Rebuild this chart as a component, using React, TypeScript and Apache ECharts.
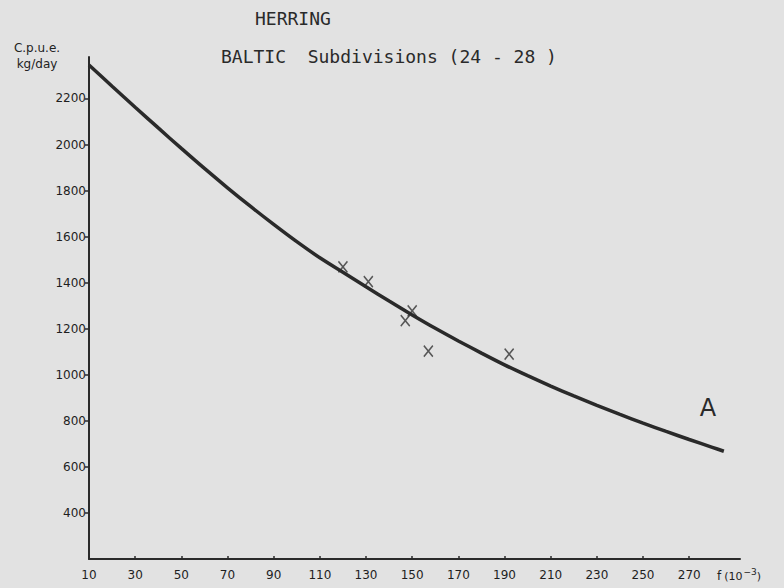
import React, { useEffect, useRef } from 'react';
import * as echarts from 'echarts';

// Fitted curve (f in 10^-3 units, C.p.u.e. kg/day)
const curveX = [10, 20, 30, 40, 50, 60, 70, 80, 90, 100, 110, 120, 130, 140, 150, 160, 170, 180, 190, 200, 210, 220, 230, 240, 250, 260, 270, 280, 285];
const curveY = [2345, 2253, 2162, 2072, 1983, 1896, 1812, 1731, 1653, 1578, 1508, 1445, 1382, 1320, 1260, 1202, 1147, 1094, 1043, 996, 951, 908, 867, 828, 790, 754, 719, 685, 668];

// Observed points (crosses)
const obsX = [120, 131, 150, 147, 157, 192];
const obsY = [1469, 1404, 1278, 1235, 1103, 1090];

const xTicks = [10, 30, 50, 70, 90, 110, 130, 150, 170, 190, 210, 230, 250, 270];
const yTicks = [400, 600, 800, 1000, 1200, 1400, 1600, 1800, 2000, 2200];

const ink = '#2a2a2a';
const labelFont = 'DejaVu Sans';
const titleFont = 'DejaVu Sans Mono';

export default function App() {
  const ref = useRef<HTMLDivElement>(null);

  useEffect(() => {
    const chart = echarts.init(ref.current!, null, { renderer: 'svg' });
    chart.setOption({
      animation: false,
      backgroundColor: '#e2e2e2',
      grid: { left: 89, right: 44, top: 57, bottom: 29 },
      xAxis: {
        type: 'value',
        min: 10,
        max: 292,
        axisLine: { show: true, lineStyle: { color: ink, width: 2 } },
        axisTick: { show: true, inside: true, length: 3, customValues: xTicks, lineStyle: { color: ink, width: 1.5 } },
        axisLabel: {
          customValues: xTicks,
          formatter: (v: number) => String(v),
          color: '#1e1e1e',
          fontFamily: labelFont,
          fontSize: 12,
          margin: 10,
        },
        splitLine: { show: false },
      },
      yAxis: {
        type: 'value',
        min: 200,
        max: 2380,
        axisLine: { show: true, lineStyle: { color: ink, width: 2 } },
        axisTick: { show: true, length: 4, customValues: yTicks, lineStyle: { color: ink, width: 1.5 } },
        axisLabel: {
          customValues: yTicks,
          formatter: (v: number) => String(v),
          color: '#1e1e1e',
          fontFamily: labelFont,
          fontSize: 12,
          margin: 3,
        },
        splitLine: { show: false },
      },
      series: [
        {
          type: 'line',
          data: curveX.map((x, i) => [x, curveY[i]]),
          smooth: 0.3,
          showSymbol: false,
          lineStyle: { color: ink, width: 3.5 },
        },
        {
          type: 'scatter',
          data: obsX.map((x, i) => [x, obsY[i]]),
          symbol: 'path://M0,0L10,12M10,0L0,12',
          symbolSize: [9, 11],
          itemStyle: { color: 'transparent', borderColor: '#333', borderWidth: 1.6 },
        },
      ],
      graphic: [
        {
          type: 'text',
          left: 255,
          top: 9,
          style: { text: 'HERRING', font: `18px "${titleFont}"`, fill: '#2a2a2a' },
        },
        {
          type: 'text',
          left: 221,
          top: 47,
          style: { text: 'BALTIC  Subdivisions (24 - 28 )', font: `18px "${titleFont}"`, fill: '#2a2a2a' },
        },
        {
          type: 'text',
          x: 37,
          y: 48,
          style: { text: 'C.p.u.e.', font: `12px "${labelFont}"`, fill: '#222', align: 'center', verticalAlign: 'middle' },
        },
        {
          type: 'text',
          x: 37,
          y: 64,
          style: { text: 'kg/day', font: `12px "${labelFont}"`, fill: '#222', align: 'center', verticalAlign: 'middle' },
        },
        {
          type: 'text',
          x: 708,
          y: 408,
          style: { text: 'A', font: `24px "${labelFont}"`, fill: '#2a2a2a', align: 'center', verticalAlign: 'middle' },
        },
        {
          type: 'text',
          x: 717,
          y: 576,
          style: {
            text: '{f|f}{p|(10}{s|−3}{p|)}',
            verticalAlign: 'middle',
            rich: {
              f: { font: `12px "${labelFont}"`, fill: '#1e1e1e', padding: [0, 3, 0, 0] },
              p: { font: `11px "${labelFont}"`, fill: '#1e1e1e' },
              s: { font: `9px "${labelFont}"`, fill: '#1e1e1e', verticalAlign: 'top', padding: [0, 0, 8, 1] },
            },
          },
        },
      ],
    });
    return () => chart.dispose();
  }, []);

  return (
    <div
      ref={ref}
      style={{ position: 'absolute', left: 0, top: 0, width: 784, height: 588 }}
    />
  );
}
